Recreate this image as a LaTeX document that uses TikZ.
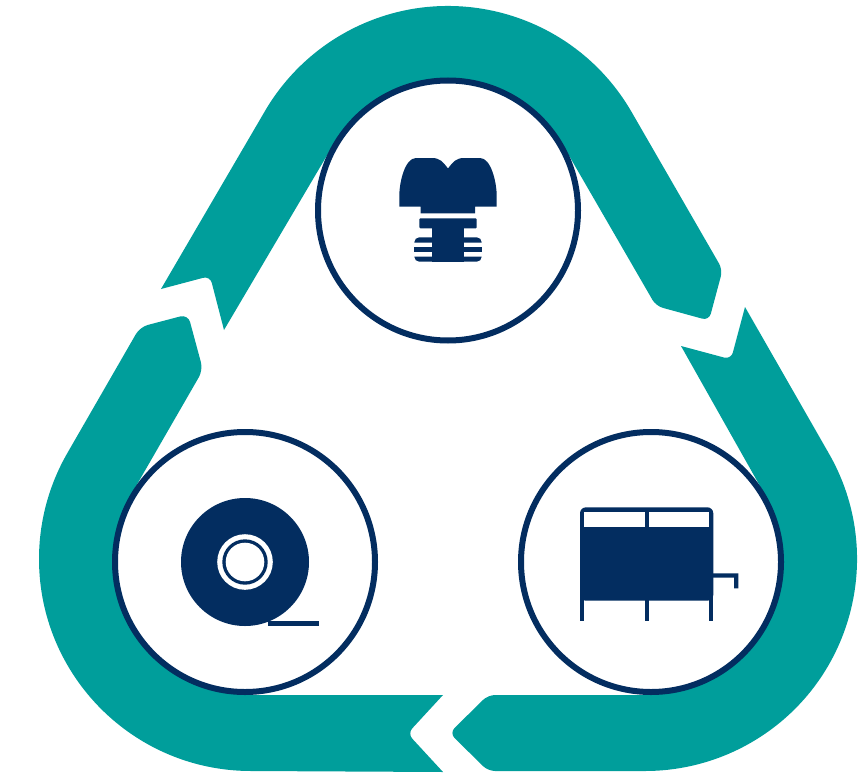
\documentclass[tikz,border=0pt]{standalone}
\usepackage{xcolor}
\usepackage{tikz}
\definecolor{bandteal}{RGB}{0,158,155}
\definecolor{iconnavy}{RGB}{3,45,96}
\begin{document}
\begin{tikzpicture}[
      x=1pt, y=-1pt,
      band/.style = {fill=bandteal},
      icon/.style = {fill=iconnavy},
      blank/.style = {fill=white},
      hub/.style = {
        circle, minimum size=260pt, inner sep=0pt, outer sep=0pt,
        draw=iconnavy, line width=6pt, fill=white
      },
    ]
    \useasboundingbox (0,0) rectangle (859,773);
    % top band
    \fill[band] (161,289) [rounded corners=7pt] -- (210,276) [sharp corners] -- (224,330)
      -- (330.2,150) arc[start angle=210, end angle=330, radius=136]
      [rounded corners=7pt] -- (656,306) -- (709,320.5) -- (722.6,269.7) [sharp corners]
      -- (631.6,112) arc[start angle=330, end angle=210, radius=212] -- cycle;
    % left band
    \fill[band] (67.4,453) [rounded corners=8pt] -- (140,327) -- (188,314.4) -- (203,370)
      [sharp corners] -- (133.2,491) arc[start angle=210, end angle=90, radius=136]
      -- (443,695) [rounded corners=7pt] -- (407.5,733.5) [sharp corners] -- (443,772)
      -- (251,771) arc[start angle=90, end angle=210, radius=212] -- cycle;
    % right band
    \fill[band] (745,307) -- (828.6,453) arc[start angle=330, end angle=450, radius=212]
      [rounded corners=7pt] -- (488,771) -- (449.5,733) -- (488,695) [sharp corners]
      -- (645,695) arc[start angle=450, end angle=330, radius=136]
      -- (681,346) [rounded corners=7pt] -- (731,359.4) [sharp corners] -- cycle;
    \node[hub] (crownhub) at (448,210.5) {};
    \node[hub] (rollhub) at (245,562) {};
    \node[hub] (bedhub) at (651,562) {};
    % crown and screw
    \fill[icon] (399.3,206.7) -- (399.3,196) .. controls (399.3,182) and (405,158) .. (416,158)
      -- (432,158) .. controls (440,158) and (443,162) .. (448,168.5)
      .. controls (453,162) and (456,158) .. (464,158)
      -- (480,158) .. controls (491,158) and (496.7,182) .. (496.7,196)
      -- (496.7,206.7) -- (475,206.7) -- (475,213.3) -- (420.7,213.3) -- (420.7,206.7) -- cycle;
    \fill[icon, rounded corners=1pt] (419.3,218.3) rectangle (476.7,228.3);
    \fill[icon] (431.7,228) rectangle (464.3,262);
    \fill[icon] (414.3,242.7) [rounded corners=5pt] -- (414.3,237.3) -- (481.7,237.3) [sharp corners] -- (481.7,242.7) -- cycle;
    \fill[icon] (414.3,247.3) rectangle (481.7,252);
    \fill[icon] (414.3,256.7) [rounded corners=5pt] -- (414.3,261.7) -- (481.7,261.7) [sharp corners] -- (481.7,256.7) -- cycle;
    % tape roll
    \fill[icon] (268,621.3) rectangle (319,626);
    \fill[icon] (245,562) circle[radius=64];
    \fill[blank] (245,562) circle[radius=27.8];
    \fill[icon] (245,562) circle[radius=22.7];
    \fill[blank] (245,562) circle[radius=19.3];
    % bed
    \fill[icon, rounded corners=6pt] (580,600.7) -- (580,507.3) -- (713.3,507.3) -- (713.3,600.7) -- cycle;
    \fill[blank] (584,511.7) rectangle (644.7,527.3);
    \fill[blank] (649,511.7) rectangle (709,527.3);
    \fill[icon] (580,595) rectangle (584,620.7);
    \fill[icon] (644.7,595) rectangle (649,620.7);
    \fill[icon] (709,595) rectangle (713.3,620.7);
    \fill[icon] (713,573.3) -- (738.3,573.3) -- (738.3,588.3) -- (734,588.3) -- (734,577.7) -- (713,577.7) -- cycle;
\end{tikzpicture}
\end{document}
